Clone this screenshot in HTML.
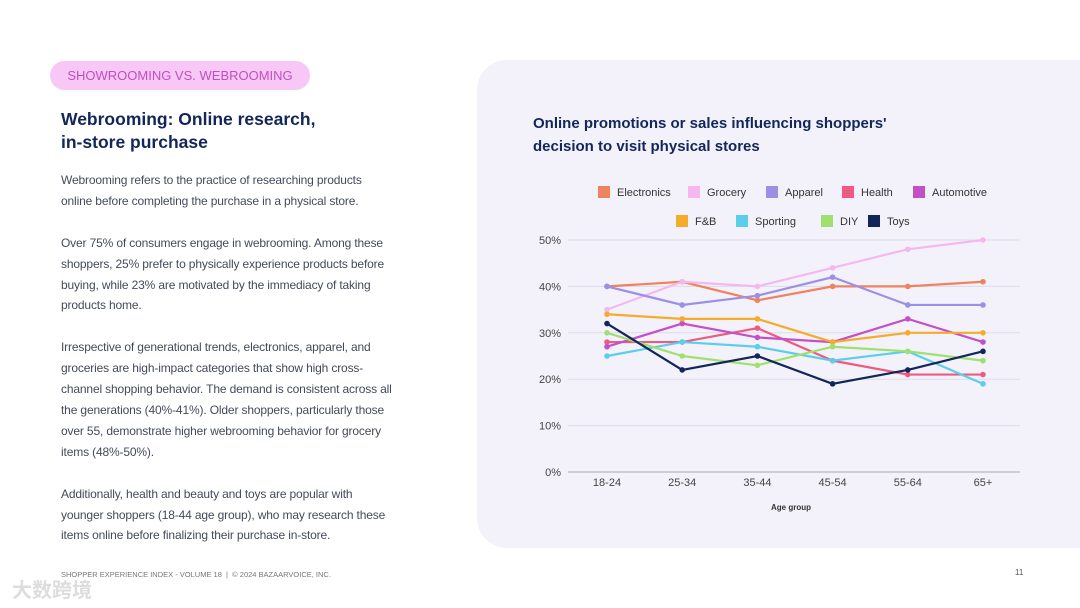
<!DOCTYPE html>
<html><head><meta charset="utf-8"><style>
body{margin:0;width:1080px;height:608px;background:#fff;font-family:"Liberation Sans","Noto Sans CJK SC",sans-serif;position:relative;overflow:hidden}
.abs{position:absolute}
p{margin:0}
.body{left:61px;font-size:12px;letter-spacing:-0.15px;line-height:20.9px;color:#444a5c;white-space:nowrap}
</style></head><body>
<div class="abs" style="left:50px;top:61px;width:260px;height:29px;border-radius:15px;background:#f7c8f5;color:#c04fbf;font-size:13px;line-height:29px;text-align:center">SHOWROOMING VS. WEBROOMING</div>
<div class="abs" style="left:61px;top:108px;font-size:17.5px;font-weight:bold;color:#12265a;line-height:23px">Webrooming: Online research,<br>in-store purchase</div>
<div class="abs body" style="top:170px">
<p>Webrooming refers to the practice of researching products<br>online before completing the purchase in a physical store.</p><br>
<p>Over 75% of consumers engage in webrooming. Among these<br>shoppers, 25% prefer to physically experience products before<br>buying, while 23% are motivated by the immediacy of taking<br>products home.</p><br>
<p>Irrespective of generational trends, electronics, apparel, and<br>groceries are high-impact categories that show high cross-<br>channel shopping behavior. The demand is consistent across all<br>the generations (40%-41%). Older shoppers, particularly those<br>over 55, demonstrate higher webrooming behavior for grocery<br>items (48%-50%).</p><br>
<p>Additionally, health and beauty and toys are popular with<br>younger shoppers (18-44 age group), who may research these<br>items online before finalizing their purchase in-store.</p>
</div>
<div class="abs" style="left:61px;top:570px;font-size:7.5px;color:#777">SHOPPER EXPERIENCE INDEX - VOLUME 18 &nbsp;| &nbsp;© 2024 BAZAARVOICE, INC.</div>
<div class="abs" style="left:12px;top:574px;font-size:20px;color:#ddd;font-weight:bold">大数跨境</div>
<div class="abs" style="left:1015px;top:568px;font-size:8px;color:#555">11</div>
<div class="abs" style="left:477px;top:60px;width:640px;height:488px;border-radius:30px;background:#f3f2fb"></div>
<div class="abs" style="left:533px;top:112px;font-size:15px;font-weight:bold;color:#12265a;line-height:23px">Online promotions or sales influencing shoppers'<br>decision to visit physical stores</div>
<svg class="abs" style="left:0;top:0" width="1080" height="608" id="chart"></svg>
<script>
const categories=["18-24","25-34","35-44","45-54","55-64","65+"];
const yTicks=[0,10,20,30,40,50];
const seriesNames=["Electronics","Grocery","Apparel","Health","Automotive","F&B","Sporting","DIY","Toys"];
const electronics=[40,41,37,40,40,41];
const grocery=[35,41,40,44,48,50];
const apparel=[40,36,38,42,36,36];
const health=[28,28,31,24,21,21];
const automotive=[27,32,29,28,33,28];
const fnb=[34,33,33,28,30,30];
const sporting=[25,28,27,24,26,19];
const diy=[30,25,23,27,26,24];
const toys=[32,22,25,19,22,26];
const allSeries=[electronics,grocery,apparel,health,automotive,fnb,sporting,diy,toys];
const colors=["#f0825e","#f5b8ee","#9c8fe6","#ee5a82","#c44fc6","#f5ac2a","#5ccdea","#9fe070","#12265a"];
const NS="http://www.w3.org/2000/svg";const svg=document.getElementById('chart');
function x(i){return 607+i*75.2}
function y(v){return 472-v*4.64}
function mk(t,a,p){const e=document.createElementNS(NS,t);for(const k in a)e.setAttribute(k,a[k]);(p||svg).appendChild(e);return e}
yTicks.forEach(v=>{const l=mk('line',{x1:568,x2:1020,y1:y(v),y2:y(v),stroke:v==0?'#aaa':'#dddbe8','stroke-width':1});


const t=mk('text',{x:561,y:y(v)+4,'text-anchor':'end','font-size':11,fill:'#444'});t.textContent=v+'%';

});
categories.forEach((c,i)=>{const t=mk('text',{x:x(i),y:486,'text-anchor':'middle','font-size':11,fill:'#444'});t.textContent=c;

});
const xt=mk('text',{x:791,y:510,'text-anchor':'middle','font-size':8,'font-weight':'bold',fill:'#333'});xt.textContent='Age group';


allSeries.forEach((s,k)=>{const g=mk('g',{});


mk('polyline',{points:s.map((v,i)=>x(i)+','+y(v)).join(' '),fill:'none',stroke:colors[k],'stroke-width':2.2},g);
s.forEach((v,i)=>{const c=mk('circle',{cx:x(i),cy:y(v),r:2.8,fill:colors[k]},g);

});});
const legX=[598,688,766,842,913,676,736,821,868];const legY=[192,192,192,192,192,221,221,221,221];
seriesNames.forEach((n,k)=>{const g=mk('g',{});


mk('rect',{x:legX[k],y:legY[k]-6,width:12,height:12,fill:colors[k]},g);
const t=mk('text',{x:legX[k]+19,y:legY[k]+4,'font-size':11,fill:'#333'},g);t.textContent=n;});
</script>
</body></html>
